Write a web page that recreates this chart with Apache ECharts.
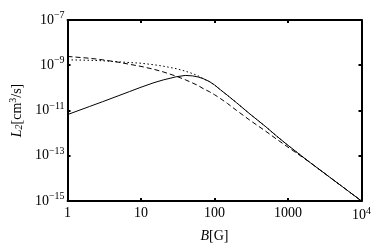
<!DOCTYPE html>
<html>
<head>
<meta charset="utf-8">
<script src="https://cdn.jsdelivr.net/npm/echarts@6/dist/echarts.min.js"></script>
<style>
html,body{margin:0;padding:0;background:#fff;}
#c{width:374px;height:248px;}
</style>
</head>
<body>
<div id="c"></div>
<script>
// magnetic field B [G]
var bValues = [1, 2, 3, 5, 7, 10, 15, 20, 30, 40, 50, 60, 70, 85, 100, 120, 150, 200, 300, 500, 700, 1000, 2000, 5000, 10000];
// L2 [cm^3/s]
var solidL2 = [6.6e-12, 1.51e-11, 2.45e-11, 4.57e-11, 6.9e-11, 1.07e-10, 1.7e-10, 2.24e-10, 3.09e-10, 3.55e-10, 3.39e-10, 3.02e-10, 2.57e-10, 1.91e-10, 1.35e-10, 8.3e-11, 4.68e-11, 2.19e-11, 7.2e-12, 1.9e-12, 7.4e-13, 2.88e-13, 5.0e-14, 5.4e-15, 1e-15];
var dashedL2 = [2.45e-9, 2.04e-9, 1.74e-9, 1.35e-9, 1.1e-9, 8.9e-10, 6.6e-10, 5.1e-10, 3.3e-10, 2.29e-10, 1.66e-10, 1.26e-10, 9.3e-11, 6.8e-11, 5.0e-11, 3.4e-11, 2.04e-11, 1.0e-11, 3.8e-12, 1.2e-12, 5.4e-13, 2.4e-13, 5.0e-14, 5.4e-15, 1e-15];
var dottedL2 = [1.74e-9, 1.66e-9, 1.58e-9, 1.41e-9, 1.32e-9, 1.23e-9, 1.05e-9, 9.1e-10, 7.1e-10, 5.5e-10, 4.3e-10, 3.39e-10, 2.57e-10, 1.91e-10, 1.35e-10, 8.3e-11, 4.68e-11, 2.19e-11, 7.2e-12, 1.9e-12, 7.4e-13, 2.88e-13, 5.0e-14, 5.4e-15, 1e-15];
// tick labels
var xTicks = [1, 10, 100, 1000, 10000];
var xTickLabels = ['1', '10', '100', '1000', '10^4'];
var yTicks = [1e-15, 1e-13, 1e-11, 1e-9, 1e-7];
var yTickLabels = ['10^−15', '10^−13', '10^−11', '10^−9', '10^−7'];

function pairs(xs, ys) { return xs.map(function (x, i) { return [x, ys[i]]; }); }
function fmt(lbl) {
  var p = lbl.split('^');
  return p.length > 1 ? '{b|' + p[0] + '}{s|' + p[1] + '}' : '{b|' + p[0] + '}';
}
function labelFor(ticks, labels) {
  return function (v) {
    for (var i = 0; i < ticks.length; i++) {
      if (Math.abs(Math.log10(v) - Math.log10(ticks[i])) < 1e-6) return fmt(labels[i]);
    }
    return '';
  };
}
var FONT = '"Liberation Serif", "DejaVu Serif", serif';
var rich = {
  b: {fontFamily: FONT, fontSize: 14, color: '#000'},
  s: {fontFamily: FONT, fontSize: 10, color: '#000', verticalAlign: 'bottom', padding: [0, 0, 9, 0]}
};

var chart = echarts.init(document.getElementById('c'), null, {renderer: 'canvas'});
var axisLineStyle = {show: true, lineStyle: {color: '#000', width: 2}};
var tickStyle = {show: true, inside: true, length: 3, lineStyle: {color: '#000', width: 2}};
var lineCommon = {type: 'line', showSymbol: false, smooth: false};
chart.setOption({
  animation: false,
  backgroundColor: '#fff',
  grid: {left: 65, right: 12, top: 20, bottom: 46, show: false},
  xAxis: [{
    type: 'log', logBase: 10, min: 1, max: 10000,
    axisLine: axisLineStyle,
    axisTick: Object.assign({customValues: xTicks}, tickStyle),
    minorTick: {show: false},
    splitLine: {show: false},
    axisLabel: {customValues: xTicks, formatter: labelFor(xTicks, xTickLabels), rich: rich, margin: 5},
    name: '{i|B}{b|[G]}',
    nameLocation: 'middle', nameGap: 28,
    nameTextStyle: {rich: {i: {fontFamily: FONT, fontSize: 14, fontStyle: 'italic', color: '#000'}, b: {fontFamily: FONT, fontSize: 14, color: '#000'}}}
  }, {
    type: 'log', logBase: 10, min: 1, max: 10000, position: 'top',
    axisLine: axisLineStyle,
    axisTick: Object.assign({customValues: xTicks}, tickStyle),
    axisLabel: {show: false},
    splitLine: {show: false}
  }],
  yAxis: [{
    type: 'log', logBase: 10, min: 1e-15, max: 1e-7,
    axisLine: axisLineStyle,
    axisTick: Object.assign({customValues: yTicks}, tickStyle),
    minorTick: {show: false},
    splitLine: {show: false},
    axisLabel: {customValues: yTicks, formatter: labelFor(yTicks, yTickLabels), rich: rich, margin: 3},
    name: '{i|L}{sub|2}{b|[cm}{sup|3}{b|/s]}',
    nameLocation: 'middle', nameGap: 40, nameRotate: 90,
    nameTextStyle: {rich: {
      i: {fontFamily: FONT, fontSize: 14, fontStyle: 'italic', color: '#000'},
      sub: {fontFamily: FONT, fontSize: 10, fontStyle: 'italic', color: '#000', verticalAlign: 'top', padding: [6, 0, 0, 0]},
      sup: {fontFamily: FONT, fontSize: 10, color: '#000', verticalAlign: 'bottom', padding: [0, 0, 8, 0]},
      b: {fontFamily: FONT, fontSize: 14, color: '#000'}
    }}
  }, {
    type: 'log', logBase: 10, min: 1e-15, max: 1e-7, position: 'right',
    axisLine: axisLineStyle,
    axisTick: Object.assign({customValues: yTicks}, tickStyle),
    axisLabel: {show: false},
    splitLine: {show: false}
  }],
  series: [
    Object.assign({data: pairs(bValues, solidL2), lineStyle: {color: '#000', width: 1, type: 'solid'}}, lineCommon),
    Object.assign({data: pairs(bValues, dashedL2), lineStyle: {color: '#000', width: 1, type: [5, 3]}}, lineCommon),
    Object.assign({data: pairs(bValues, dottedL2), lineStyle: {color: '#000', width: 1, type: [1.5, 2.5]}}, lineCommon)
  ]
});
</script>
</body>
</html>
